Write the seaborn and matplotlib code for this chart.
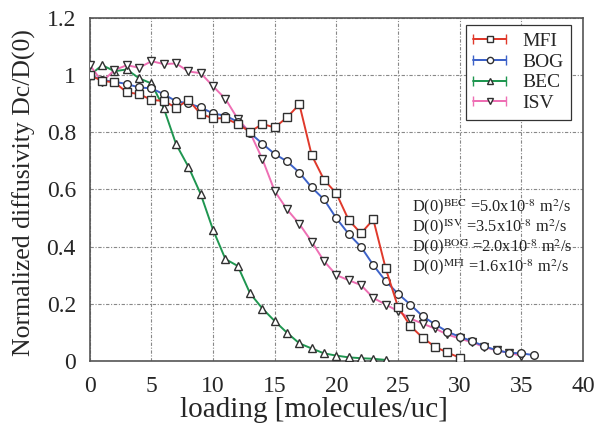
import numpy as np
import pandas as pd
import matplotlib
matplotlib.use("Agg")
import matplotlib.pyplot as plt
import seaborn as sns
from matplotlib.container import ErrorbarContainer
from matplotlib.collections import LineCollection
from matplotlib.lines import Line2D
from matplotlib.legend_handler import HandlerErrorbar

# ---- data ----
mfi_x = list(range(0, 31))
mfi_y = [1.00, 0.98, 0.975, 0.94, 0.934, 0.913, 0.91, 0.886, 0.913, 0.864,
         0.849, 0.849, 0.829, 0.802, 0.829, 0.817, 0.852, 0.898, 0.72, 0.634,
         0.586, 0.493, 0.446, 0.495, 0.324, 0.189, 0.122, 0.081, 0.049, 0.029,
         0.011]
bog_x = list(range(0, 37))
bog_y = [1.00, 0.983, 0.977, 0.969, 0.957, 0.954, 0.933, 0.909, 0.901, 0.887,
         0.866, 0.858, 0.837, 0.798, 0.76, 0.724, 0.698, 0.659, 0.607, 0.565,
         0.499, 0.444, 0.399, 0.335, 0.279, 0.235, 0.197, 0.156, 0.128, 0.102,
         0.084, 0.069, 0.051, 0.037, 0.028, 0.026, 0.02]
bec_x = list(range(0, 25))
bec_y = [1.00, 1.035, 1.014, 1.02, 0.989, 0.971, 0.884, 0.758, 0.679, 0.583,
         0.458, 0.356, 0.332, 0.236, 0.183, 0.139, 0.098, 0.061, 0.043, 0.026,
         0.018, 0.012, 0.009, 0.007, 0.003]
isv_x = list(range(0, 36))
isv_y = [1.035, 0.977, 1.018, 1.035, 1.026, 1.049, 1.039, 1.041, 1.013, 1.007,
         0.961, 0.917, 0.847, 0.799, 0.706, 0.594, 0.53, 0.479, 0.417, 0.349,
         0.30, 0.282, 0.265, 0.22, 0.197, 0.174, 0.148, 0.13, 0.113, 0.092,
         0.078, 0.065, 0.048, 0.036, 0.028, 0.018]

names = ["MFI", "BOG", "BEC", "ISV"]
colors = {"MFI": "#e0392b", "BOG": "#3d62c8", "BEC": "#1f9650", "ISV": "#ee6fb4"}
markers = {"MFI": "s", "BOG": "o", "BEC": "^", "ISV": "v"}

d0_lines = [("BEC", "5.0"), ("ISV", "3.5"), ("BOG", "2.0"), ("MFI", "1.6")]
yticks = [0, 0.2, 0.4, 0.6, 0.8, 1.0, 1.2]
ytick_labels = ["0", "0.2", "0.4", "0.6", "0.8", "1", "1.2"]
xticks = list(range(0, 41, 5))

series = {"MFI": (mfi_x, mfi_y), "BOG": (bog_x, bog_y),
          "BEC": (bec_x, bec_y), "ISV": (isv_x, isv_y)}
df = pd.concat([pd.DataFrame({"loading": x, "D": y, "zeolite": n})
                for n, (x, y) in series.items()], ignore_index=True)

sns.set_theme(style="white")
plt.rcParams["font.family"] = ["Liberation Serif", "DejaVu Serif"]
plt.rcParams["mathtext.fontset"] = "stix"

fig = plt.figure(figsize=(5.99, 4.30), dpi=100)
ax = fig.add_axes([0.150, 0.161, 0.823, 0.797])

for n in ["BEC", "ISV", "BOG", "MFI"]:
    sub = df[df["zeolite"] == n]
    sns.lineplot(data=sub, x="loading", y="D", ax=ax, color=colors[n],
                 marker=markers[n], markersize=5.5, markerfacecolor="white",
                 markeredgecolor="#303030", markeredgewidth=1.0, linewidth=1.4,
                 legend=False, zorder=3)

ax.set_xlim(0, 40)
ax.set_ylim(0, 1.2)
ax.set_xticks(xticks)
ax.set_yticks(yticks)
ax.set_yticklabels(ytick_labels)
ax.tick_params(axis="both", labelsize=17, length=0)
ax.tick_params(axis="x", pad=11)
ax.tick_params(axis="y", pad=10)
ax.grid(True, color="#888888", linestyle=(0, (3, 1.5, 1, 1.5)), linewidth=0.8)
for s in ax.spines.values():
    s.set_color("#555555")
    s.set_linewidth(1.2)

ax.set_xlabel("loading [molecules/uc]", fontsize=21)
ax.set_ylabel("Normalized diffusivity Dc/D(0)", fontsize=18.5)
ax.xaxis.set_label_coords(0.454, -0.105)
ax.yaxis.set_label_coords(-0.11, 0.49)

ys = [0.524, 0.452, 0.382, 0.312]
for (n, v), yy in zip(d0_lines, ys):
    ax.text(26.1, yy,
            r"D(0)$^{\rm %s}$ =%sx10$^{\text{-8}}$ m$^{\rm 2}$/s" % (n, v),
            fontsize=11.8, va="baseline", ha="left", color="#222222", zorder=4)

handles = []
for n in names:
    line = Line2D([], [], color=colors[n], marker=markers[n], markersize=4.5,
                  markerfacecolor="white", markeredgecolor="#303030",
                  markeredgewidth=1.0, linewidth=1.4)
    cap = Line2D([], [], color=colors[n], marker="|", markersize=7, linewidth=1.4)
    coll = LineCollection([], colors=colors[n], linewidths=1.4)
    handles.append(ErrorbarContainer((line, (cap,), (coll,)), has_xerr=True,
                                     has_yerr=False, label=n))
leg = ax.legend(handles=handles, labels=names, loc="upper right",
                bbox_to_anchor=(0.976, 0.98), borderaxespad=0,
                fontsize=14, frameon=True,
                fancybox=False, edgecolor="#333333", framealpha=1,
                handlelength=1.7, handletextpad=0.8, borderpad=0.4,
                labelspacing=0.15,
                handler_map={ErrorbarContainer: HandlerErrorbar(xerr_size=0.85)})
leg.get_frame().set_linewidth(0.9)

fig.savefig("out.png", dpi=100)
